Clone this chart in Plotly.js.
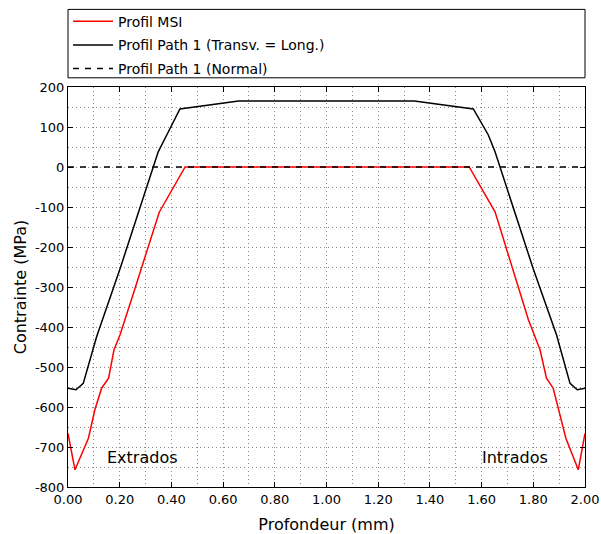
<!DOCTYPE html>
<html><head><meta charset="utf-8">
<script src="https://cdn.plot.ly/plotly-3.0.1.min.js"></script>
<style>html,body{margin:0;padding:0;background:#fff}#chart{width:601px;height:534px}</style>
</head><body><div id="chart"></div>
<script>
// Profil MSI (red)
const msiDepth = [0, 0.027, 0.079, 0.104, 0.130, 0.157, 0.178, 0.201, 0.253, 0.353, 0.453, 1.552, 1.652, 1.781, 1.826, 1.851, 1.877, 1.926, 1.974, 2.0];
const msiStress = [-666, -757, -678, -607, -553, -528, -457, -420, -316, -113, 0, 0, -112, -382, -457, -528, -553, -678, -757, -666];
// Profil Path 1 (Transv. = Long.)
const pathDepth = [0, 0.031, 0.059, 0.111, 0.201, 0.349, 0.382, 0.433, 0.66, 1.34, 1.568, 1.626, 1.652, 1.80, 1.890, 1.942, 1.970, 2.0];
const pathStress = [-553, -557, -541, -424, -255, 38, 80, 145, 165, 165, 145, 80, 38, -255, -420, -541, -557, -553];
// Profil Path 1 (Normal)
const normalDepth = [0, 2];
const normalStress = [0, 0];
const seriesNames = ['Profil MSI', 'Profil Path 1 (Transv. = Long.)', 'Profil Path 1 (Normal)'];
const yTicks = [200, 100, 0, -100, -200, -300, -400, -500, -600, -700, -800];
const yTickText = yTicks.map(v => String(v));
const xTicks = [0, 0.2, 0.4, 0.6, 0.8, 1.0, 1.2, 1.4, 1.6, 1.8, 2.0];
const xTickText = xTicks.map(v => v.toFixed(2));

const font = 'DejaVu Sans, sans-serif';
const traces = [
  {x: msiDepth, y: msiStress, name: seriesNames[0], legendgroup: 'a', mode: 'lines', line: {color: '#ff0000', width: 1.5}},
  {x: pathDepth, y: pathStress, name: seriesNames[1], legendgroup: 'b', mode: 'lines', line: {color: '#000000', width: 1.5}},
  {x: normalDepth, y: normalStress, name: seriesNames[2], legendgroup: 'c', mode: 'lines', line: {color: '#000000', width: 1.5, dash: '6px,6px'}}
];
const gridStyle = {gridcolor: '#888', griddash: '1px,3px', gridwidth: 1};
const axisCommon = Object.assign({
  showline: true, linecolor: '#000', linewidth: 1, mirror: 'allticks',
  ticks: 'inside', ticklen: 5, tickcolor: '#000', tickwidth: 1,
  showgrid: true, zeroline: false, tickfont: {family: font, size: 13, color: '#000'}
}, gridStyle);
const layout = {
  width: 601, height: 534,
  margin: {l: 68, r: 16, t: 87, b: 47, autoexpand: false},
  paper_bgcolor: '#fff', plot_bgcolor: '#fff',
  font: {family: font, color: '#000'},
  showlegend: true,
  legend: {x: 0, y: 1.2035, xanchor: 'left', yanchor: 'top', bgcolor: 'rgba(0,0,0,0)',
           font: {family: font, size: 14, color: '#000'}, itemwidth: 40, tracegroupgap: 2.5},
  xaxis: Object.assign({}, axisCommon, {
    range: [0, 2], tickvals: xTicks, ticktext: xTickText, automargin: false,
    minor: Object.assign({dtick: 0.1, showgrid: true, ticks: ''}, gridStyle),
    title: {text: 'Profondeur (mm)', font: {family: font, size: 16, color: '#000'}}
  }),
  yaxis: Object.assign({}, axisCommon, {
    range: [-800, 200], tickvals: yTicks, ticktext: yTickText, automargin: false,
    minor: Object.assign({dtick: 50, showgrid: true, ticks: ''}, gridStyle),
    title: {text: 'Contrainte (MPa)', font: {family: font, size: 16, color: '#000'}}
  }),
  shapes: [
    {type: 'rect', xref: 'paper', yref: 'paper', x0: 0, x1: 1, y0: 1.023, y1: 1.194,
     line: {color: '#000', width: 1}, fillcolor: 'rgba(0,0,0,0)'}
  ],
  annotations: [
    {x: 0.29, y: -727, xref: 'x', yref: 'y', text: 'Extrados', showarrow: false,
     font: {family: font, size: 16, color: '#000'}},
    {x: 1.73, y: -727, xref: 'x', yref: 'y', text: 'Intrados', showarrow: false,
     font: {family: font, size: 16, color: '#000'}}
  ]
};
Plotly.newPlot('chart', traces, layout, {displayModeBar: false, staticPlot: true});
</script></body></html>
